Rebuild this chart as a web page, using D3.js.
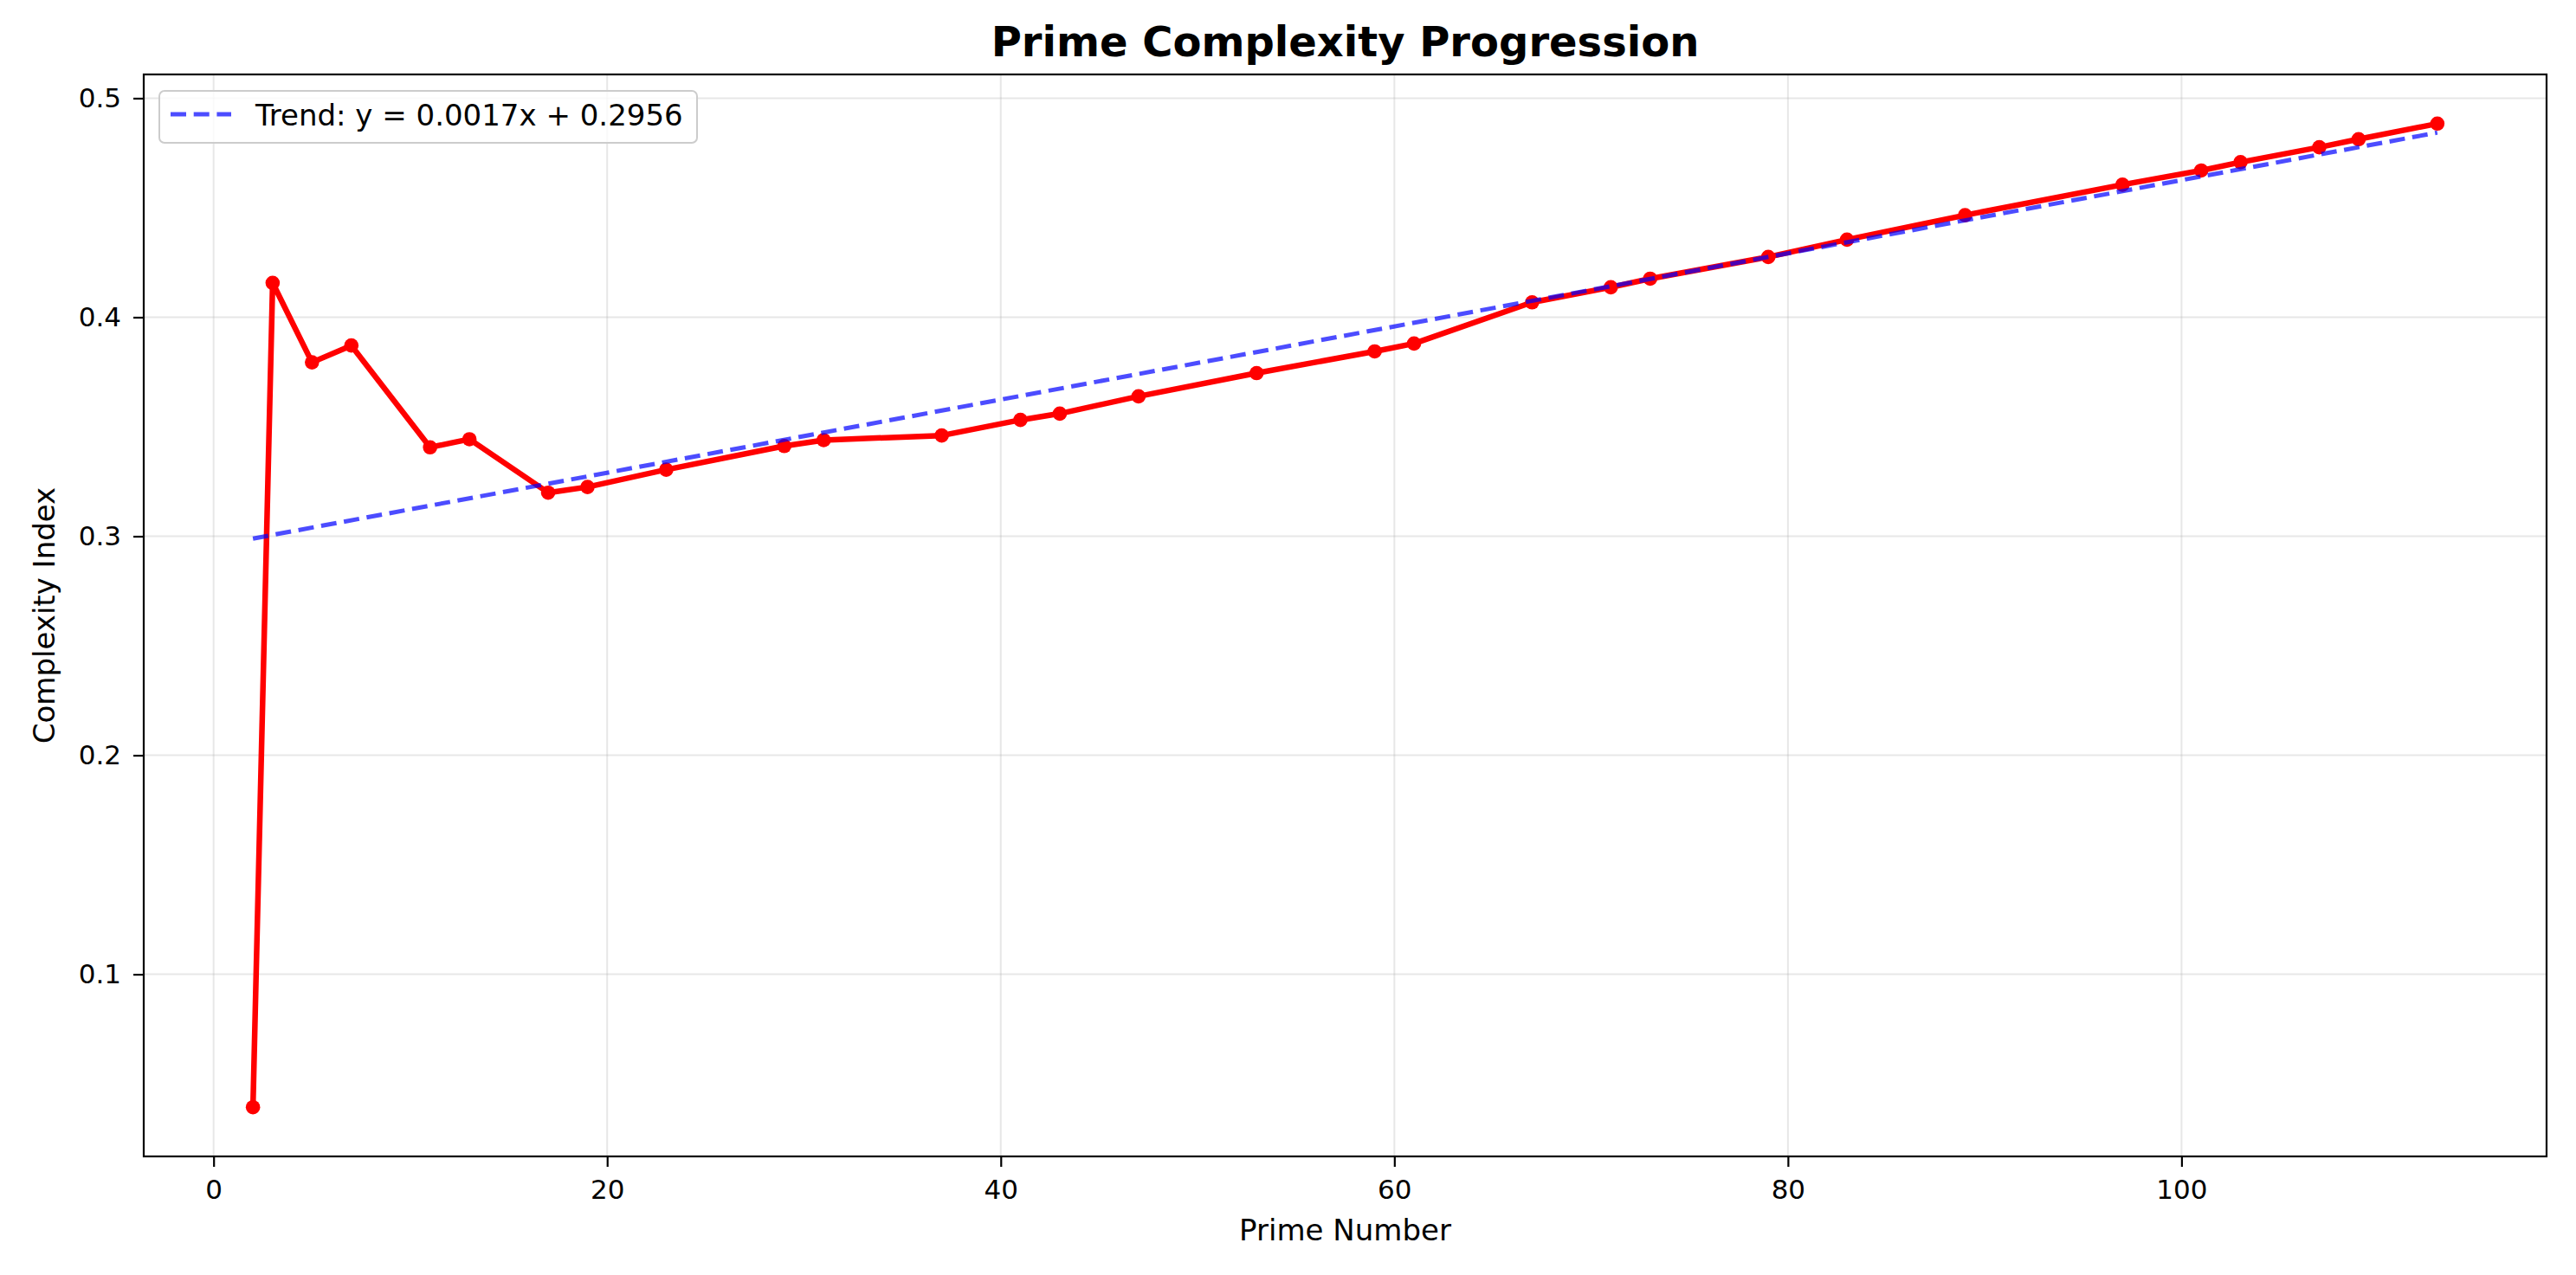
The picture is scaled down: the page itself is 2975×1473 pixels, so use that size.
<!DOCTYPE html>
<html>
<head>
<meta charset="utf-8">
<script src="https://cdn.jsdelivr.net/npm/d3@7"></script>
<style>
  html, body { margin: 0; padding: 0; background: #ffffff; }
  svg { display: block; font-family: "DejaVu Sans", sans-serif; }
</style>
</head>
<body>
<svg id="chart" width="2975" height="1473"></svg>
<script>
// ---- Data ----
const primes = [2, 3, 5, 7, 11, 13, 17, 19, 23, 29, 31, 37, 41, 43, 47, 53, 59, 61, 67, 71, 73, 79, 83, 89, 97, 101, 103, 107, 109, 113];
const complexity = [0.0393, 0.4157, 0.3794, 0.3871, 0.3406, 0.3443, 0.3199, 0.3225, 0.3304, 0.3412, 0.3439, 0.3460, 0.3531, 0.3560, 0.3639, 0.3745, 0.3844, 0.3880, 0.4068, 0.4137, 0.4176, 0.4275, 0.4354, 0.4466, 0.4605, 0.4670, 0.4708, 0.4776, 0.4813, 0.4884];
const trendSlope = 0.00167;
const trendIntercept = 0.2956;
const trendLabel = "Trend: y = 0.0017x + 0.2956";
const xTicks = [0, 20, 40, 60, 80, 100];
const yTicks = [0.1, 0.2, 0.3, 0.4, 0.5];
const titleText = "Prime Complexity Progression";
const xLabel = "Prime Number";
const yLabel = "Complexity Index";

// ---- Layout ----
const W = 2975, H = 1473;
const plot = { left: 166, right: 2941, top: 86, bottom: 1336 };

const svg = d3.select("#chart");

const xMin = d3.min(primes), xMax = d3.max(primes);
const xPad = (xMax - xMin) * 0.05;
const yMin = d3.min(complexity), yMax = d3.max(complexity);
const yPad = (yMax - yMin) * 0.05;

const x = d3.scaleLinear().domain([xMin - xPad, xMax + xPad]).range([plot.left, plot.right]);
const y = d3.scaleLinear().domain([yMin - yPad, yMax + yPad]).range([plot.bottom, plot.top]);

// background
svg.append("rect").attr("x", 0).attr("y", 0).attr("width", W).attr("height", H).attr("fill", "#ffffff");

// grid
const grid = svg.append("g").attr("class", "grid");
grid.selectAll("line.gx").data(xTicks).enter().append("line")
  .attr("x1", d => x(d)).attr("x2", d => x(d))
  .attr("y1", plot.top).attr("y2", plot.bottom)
  .attr("stroke", "#b0b0b0").attr("stroke-opacity", 0.3).attr("stroke-width", 2);
grid.selectAll("line.gy").data(yTicks).enter().append("line")
  .attr("x1", plot.left).attr("x2", plot.right)
  .attr("y1", d => y(d)).attr("y2", d => y(d))
  .attr("stroke", "#b0b0b0").attr("stroke-opacity", 0.3).attr("stroke-width", 2);

// clip
svg.append("clipPath").attr("id", "clip").append("rect")
  .attr("x", plot.left).attr("y", plot.top)
  .attr("width", plot.right - plot.left).attr("height", plot.bottom - plot.top);

const data = primes.map((p, i) => ({ p, v: complexity[i] }));

// red line
const line = d3.line().x(d => x(d.p)).y(d => y(d.v));
const g = svg.append("g").attr("clip-path", "url(#clip)");
g.append("path").datum(data)
  .attr("d", line)
  .attr("fill", "none")
  .attr("stroke", "#ff0000")
  .attr("stroke-width", 6.5)
  .attr("stroke-linejoin", "round")
  .attr("stroke-linecap", "round");
g.selectAll("circle.pt").data(data).enter().append("circle")
  .attr("class", "pt")
  .attr("cx", d => x(d.p)).attr("cy", d => y(d.v))
  .attr("r", 8.3)
  .attr("fill", "#ff0000");

// trend line
const trendData = [xMin, xMax].map(p => ({ p, v: trendSlope * p + trendIntercept }));
g.append("path").datum(trendData)
  .attr("d", line)
  .attr("fill", "none")
  .attr("stroke", "#0000ff")
  .attr("stroke-opacity", 0.7)
  .attr("stroke-width", 5)
  .attr("stroke-dasharray", "18,8.7");

// axes
const xAxis = d3.axisBottom(x).tickValues(xTicks).tickSize(12).tickPadding(15).tickFormat(d3.format("d"));
const yAxis = d3.axisLeft(y).tickValues(yTicks).tickSize(12).tickPadding(14).tickFormat(d3.format(".1f"));

const gx = svg.append("g").attr("transform", `translate(0,${plot.bottom})`).call(xAxis);
const gy = svg.append("g").attr("transform", `translate(${plot.left},0)`).call(yAxis);
[gx, gy].forEach(a => {
  a.select(".domain").remove();
  a.selectAll(".tick line").attr("stroke", "#000").attr("stroke-width", 2.2);
  a.selectAll(".tick text").attr("fill", "#000").style("font-size", "31px").style("font-family", "DejaVu Sans");
});

// spines
svg.append("rect")
  .attr("x", plot.left).attr("y", plot.top)
  .attr("width", plot.right - plot.left).attr("height", plot.bottom - plot.top)
  .attr("fill", "none").attr("stroke", "#000").attr("stroke-width", 2.2);

// title
svg.append("text")
  .attr("x", (plot.left + plot.right) / 2).attr("y", 65)
  .attr("text-anchor", "middle")
  .style("font-size", "48px").style("font-weight", "bold")
  .attr("fill", "#000")
  .text(titleText);

// x label
svg.append("text")
  .attr("x", (plot.left + plot.right) / 2).attr("y", 1433)
  .attr("text-anchor", "middle")
  .style("font-size", "34px")
  .attr("fill", "#000")
  .text(xLabel);

// y label
svg.append("text")
  .attr("transform", `translate(63,${(plot.top + plot.bottom) / 2}) rotate(-90)`)
  .attr("text-anchor", "middle")
  .style("font-size", "34px")
  .attr("fill", "#000")
  .text(yLabel);

// legend
const lg = svg.append("g");
lg.append("rect")
  .attr("x", 184).attr("y", 105)
  .attr("width", 621).attr("height", 60)
  .attr("rx", 6).attr("ry", 6)
  .attr("fill", "#ffffff").attr("fill-opacity", 0.8)
  .attr("stroke", "#cccccc").attr("stroke-width", 2);
lg.append("line")
  .attr("x1", 197).attr("x2", 267).attr("y1", 132).attr("y2", 132)
  .attr("stroke", "#0000ff").attr("stroke-opacity", 0.7)
  .attr("stroke-width", 5).attr("stroke-dasharray", "18,8.7");
lg.append("text")
  .attr("x", 295).attr("y", 145)
  .style("font-size", "34px")
  .attr("fill", "#000")
  .text(trendLabel);
</script>
</body>
</html>
